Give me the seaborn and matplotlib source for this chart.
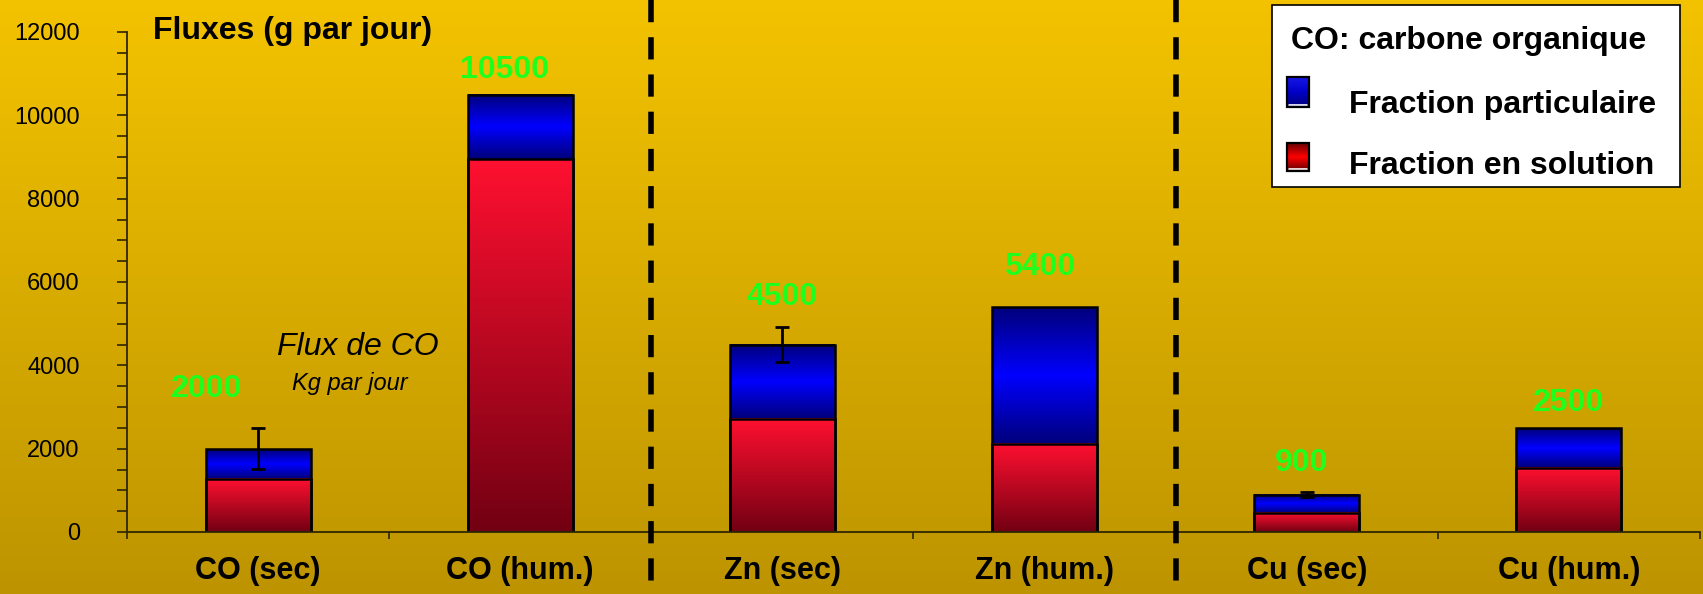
import numpy as np
import pandas as pd
import matplotlib
matplotlib.use("Agg")
import matplotlib.pyplot as plt
import seaborn as sns
from matplotlib.colors import LinearSegmentedColormap
from matplotlib.patches import Rectangle
from matplotlib.ticker import MultipleLocator

# ---- data -------------------------------------------------------------
categories = ["CO (sec)", "CO (hum.)", "Zn (sec)", "Zn (hum.)", "Cu (sec)", "Cu (hum.)"]
total_flux = [2000, 10500, 4500, 5400, 900, 2500]          # g par jour
dissolved_flux = [1280, 8950, 2720, 2120, 460, 1540]       # fraction en solution
error_flux = [490, 0, 410, 0, 50, 0]
value_labels = ["2000", "10500", "4500", "5400", "900", "2500"]
y_ticks = [0, 2000, 4000, 6000, 8000, 10000, 12000]
legend_title = "CO: carbone organique"
legend_labels = ["Fraction particulaire", "Fraction en solution"]
group_sizes = [2, 2, 2]

# placement of the green total labels relative to each bar top
label_dx = [-0.195, -0.06, 0.0, -0.02, -0.02, 0.0]
label_dy = [1240, 395, 948, 768, 564, 404]

# ---- figure -----------------------------------------------------------
W, H = 1703, 594
sns.set_style("ticks")
plt.rcParams["font.family"] = ["Liberation Sans", "DejaVu Sans"]
plt.rcParams["text.color"] = "black"
plt.rcParams["xtick.color"] = "black"
plt.rcParams["ytick.color"] = "black"

fig = plt.figure(figsize=(W / 100, H / 100), dpi=100)
grad = np.linspace(0, 1, 256).reshape(-1, 1)

# golden vertical background
bg = fig.add_axes([0, 0, 1, 1], zorder=0)
bg_cmap = LinearSegmentedColormap.from_list("gold", ["#BD9400", "#F3C300"])
bg.imshow(grad, cmap=bg_cmap, aspect="auto", origin="lower", extent=[0, 1, 0, 1])
bg.set_axis_off()

ax = fig.add_axes([127 / W, 62 / H, 1573 / W, 500 / H], zorder=1)
ax.patch.set_visible(False)

df = pd.DataFrame({"categorie": categories, "total": total_flux, "solution": dissolved_flux})
bar_kw = dict(width=0.4, saturation=1, edgecolor="black", linewidth=1.8, errorbar=None, ax=ax)
sns.barplot(data=df, x="categorie", y="total", color="#0000ff", **bar_kw)
sns.barplot(data=df, x="categorie", y="solution", color="#ff0000", **bar_kw)

n = len(categories)
blue_bars = ax.patches[:n]
red_bars = ax.patches[n:2 * n]

red_cmap = LinearSegmentedColormap.from_list("red", ["#720012", "#FF1030"])
blue_cmap = LinearSegmentedColormap.from_list("blue", ["#00007A", "#0000FF", "#00007A"])

for bb, rb in zip(blue_bars, red_bars):
    x0, w = bb.get_x(), bb.get_width()
    top = bb.get_y() + bb.get_height()
    split = rb.get_y() + rb.get_height()
    ax.imshow(grad, cmap=blue_cmap, aspect="auto", origin="lower",
              extent=[x0, x0 + w, split, top], zorder=1.5, interpolation="bilinear")
    ax.imshow(grad, cmap=red_cmap, aspect="auto", origin="lower",
              extent=[x0, x0 + w, rb.get_y(), split], zorder=1.6, interpolation="bilinear")
    for p in (bb, rb):
        p.set_facecolor("none")
        p.set_zorder(2)

# error bars on the totals
for p, tot, err in zip(blue_bars, total_flux, error_flux):
    if err > 0:
        ax.errorbar(p.get_x() + p.get_width() / 2, tot, yerr=err, fmt="none",
                    ecolor="black", elinewidth=2, capsize=5, capthick=2, zorder=3)

# green total labels
for p, tot, lab, dx, dy in zip(blue_bars, total_flux, value_labels, label_dx, label_dy):
    ax.text(p.get_x() + p.get_width() / 2 + dx, tot + dy, lab, ha="center", va="baseline",
            color="#1EFF1E", fontsize=23, fontweight="bold", zorder=4)

ax.set_xlim(-0.5, n - 0.5)
ax.set_ylim(0, 12000)
ax.set_xlabel("")
ax.set_ylabel("")

axis_col = "#2E2600"
ax.set_yticks(y_ticks)
ax.yaxis.set_minor_locator(MultipleLocator(500))
ax.tick_params(axis="y", which="both", direction="out", length=7, width=1.2,
               color=axis_col, labelsize=17, pad=27, labelcolor="black")
ax.set_xticks(range(n))
ax.set_xticklabels(categories, fontweight="bold")
ax.set_xticks(np.arange(-0.5, n, 1), minor=True)
ax.tick_params(axis="x", which="major", length=0, pad=17, labelsize=22, labelcolor="black")
ax.tick_params(axis="x", which="minor", direction="out", length=5, width=1.2, color=axis_col)

sns.despine(ax=ax)
for side in ("left", "bottom"):
    ax.spines[side].set_color(axis_col)
    ax.spines[side].set_linewidth(1.3)

# dashed separators between the CO, Zn and Cu groups
for xb in np.cumsum(group_sizes)[:-1] - 0.5:
    ax.plot([xb, xb], [1 + 32 / 500, -62 / 500], transform=ax.get_xaxis_transform(),
            clip_on=False, color="black", lw=4, dashes=(4, 2.7), zorder=4)

# titles and annotations
fig.text(293 / W, 1 - 39 / H, "Fluxes (g par jour)", ha="center", va="baseline",
         fontsize=23, fontweight="bold", color="black")
ax.text(0.381, 4241, "Flux de CO", ha="center", va="baseline", fontsize=23,
        style="italic", color="black")
ax.text(0.35, 3398, "Kg par jour", ha="center", va="baseline", fontsize=17,
        style="italic", color="black")

# legend box
lg = fig.add_axes([0, 0, 1, 1], zorder=5)
lg.patch.set_visible(False)
lg.add_patch(Rectangle((1272, 5), 408, 182, facecolor="white", edgecolor="black", lw=1.2))
lg.text(1291, 49, legend_title, fontsize=23, fontweight="bold", va="baseline", color="black")
swatch_cmaps = [
    LinearSegmentedColormap.from_list("sw_blue", ["#000078", "#0000C8", "#1818E8"]),
    LinearSegmentedColormap.from_list("sw_red", ["#600000", "#FF0000", "#6A0000"]),
]
swatch_rows = [(77, 107, 113), (143, 171, 174)]
for label, cm, (y_top, y_bot, base) in zip(legend_labels, swatch_cmaps, swatch_rows):
    lg.imshow(grad, cmap=cm, aspect="auto", origin="lower",
              extent=[1287, 1309, y_bot, y_top], zorder=2)
    lg.plot([1289, 1307], [y_bot - 2.5, y_bot - 2.5], color="white", lw=1.2, zorder=3)
    lg.add_patch(Rectangle((1287, y_top), 22, y_bot - y_top, facecolor="none",
                           edgecolor="black", lw=1.6, zorder=4))
    lg.text(1349, base, label, fontsize=23, fontweight="bold", va="baseline", color="black")
lg.set_xlim(0, W)
lg.set_ylim(H, 0)
lg.set_axis_off()

fig.savefig("out.png", dpi=100)
